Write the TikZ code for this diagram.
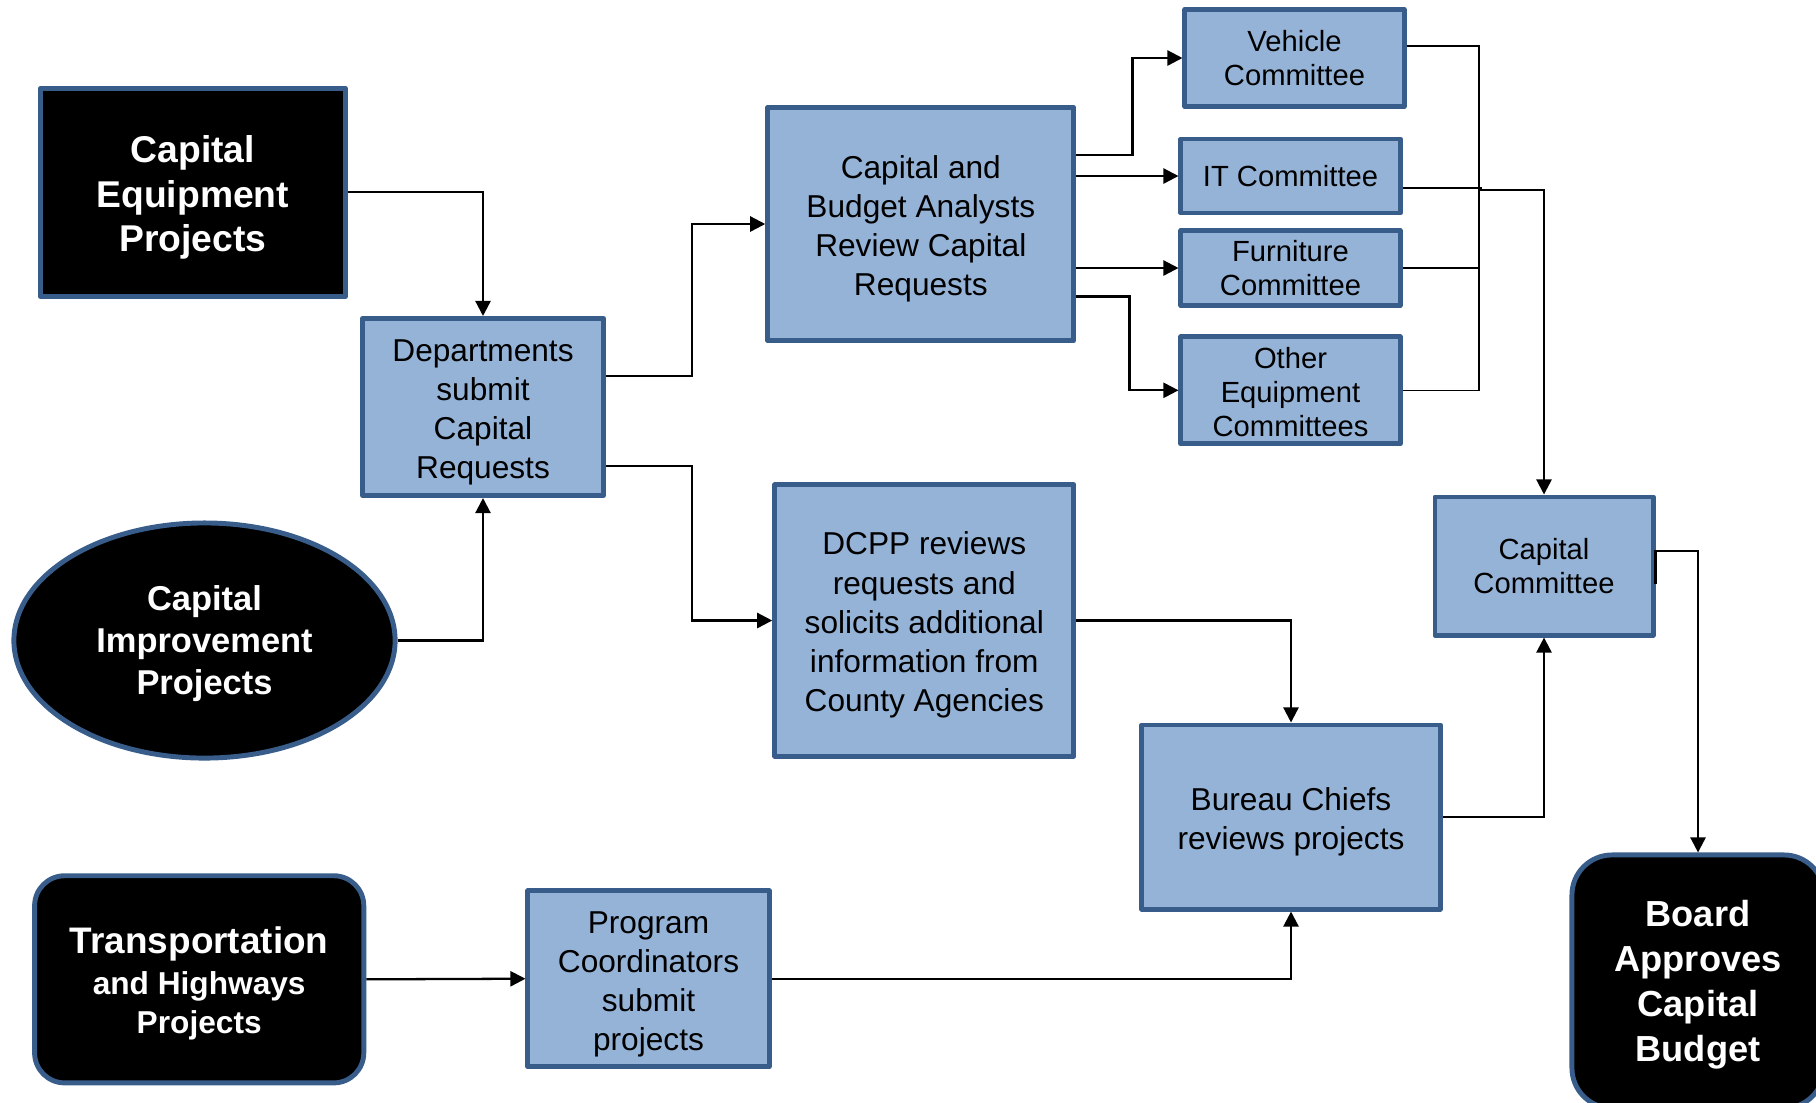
\documentclass[tikz,border=0pt]{standalone}
\usepackage{fontspec}
\setmainfont{Liberation Sans}
\usetikzlibrary{arrows.meta,calc,positioning}
\usetikzlibrary{shapes.geometric}
\definecolor{boxblue}{HTML}{95B3D7}
\definecolor{edgeblue}{HTML}{385D8A}
\newcommand{\toplift}[1][1em]{\rule{0pt}{#1}}

\begin{document}
\begin{tikzpicture}[x=0.01cm,y=-0.01cm,
every node/.style={draw=edgeblue,line width=1.4pt,line join=round,inner sep=0pt,align=center},
bluebox/.style={rectangle,fill=boxblue,font=\fontsize{9}{11.1}\selectfont},
cmte/.style={bluebox,font=\fontsize{8.3}{9.7}\selectfont},
blkbox/.style={fill=black,text=white,font=\bfseries\fontsize{10.6}{12.6}\selectfont},
arr/.style={-{Triangle[length=4.3pt,width=4.3pt]},line width=0.65pt},
thinline/.style={line width=0.45pt}]
\useasboundingbox (0,0) rectangle (1816,1102);
\clip (0,0) rectangle (1816,1102);
\node[blkbox,minimum width=3.05cm,minimum height=2.08cm] (CE) at (192.8,192.3) {\toplift Capital\\Equipment\\Projects};
\node[bluebox,minimum width=2.41cm,minimum height=1.77cm] (DS) at (483,407) {\toplift Departments\\submit\\Capital\\Requests};
\node[blkbox,ellipse,minimum width=3.81cm,minimum height=2.35cm,font=\bfseries\fontsize{9.8}{11.9}\selectfont] (CI) at (204.5,640.5) {\toplift[0.9em]Capital\\Improvement\\Projects};
\node[blkbox,rounded corners=0.3cm,minimum width=3.29cm,minimum height=2.07cm,font=\bfseries\fontsize{9}{11}\selectfont] (TH) at (199.2,979.3) {{\fontsize{10.5}{12}\selectfont\toplift[0.95em]Transportation}\\[0.8pt]and Highways\\Projects};
\node[bluebox,minimum width=2.41cm,minimum height=1.76cm] (PC) at (648.5,978.7) {\toplift[1.05em]Program\\Coordinators\\submit\\projects};
\node[bluebox,minimum width=3.06cm,minimum height=2.33cm] (CB) at (920.8,224) {\toplift Capital and\\Budget Analysts\\Review Capital\\Requests};
\node[bluebox,minimum width=2.99cm,minimum height=2.71cm] (DC) at (924.3,620.5) {\toplift DCPP reviews\\requests and\\solicits additional\\information from\\County Agencies};
\node[cmte,minimum width=2.19cm,minimum height=0.97cm] (VC) at (1294.5,58) {Vehicle\\Committee};
\node[cmte,minimum width=2.19cm,minimum height=0.74cm] (IT) at (1290.5,176) {IT Committee};
\node[cmte,minimum width=2.19cm,minimum height=0.75cm] (FC) at (1290.5,268) {Furniture\\Committee};
\node[cmte,minimum width=2.19cm,minimum height=1.07cm] (OC) at (1290.5,390.3) {\toplift[0.86em]Other\\Equipment\\Committees};
\node[cmte,minimum width=2.18cm,minimum height=1.38cm] (CC) at (1544,566) {Capital\\Committee};
\node[bluebox,minimum width=2.98cm,minimum height=1.84cm] (BC) at (1291,817) {\toplift Bureau Chiefs\\reviews projects};
\node[blkbox,rounded corners=0.4cm,minimum width=2.52cm,minimum height=2.53cm,font=\bfseries\fontsize{10.3}{12.8}\selectfont] (BA) at (1698,981.5) {\toplift[0.9em]Board\\Approves\\Capital\\Budget};
\coordinate (J) at (1479,190);
\draw[arr] (CE.east) -| (DS.north);
\draw[arr] (CI.east) -| (DS.south);
\draw[arr] ([yshift=0.31cm]DS.east) -- ++(86,0) |- (CB.west);
\draw[arr] ([yshift=-0.59cm]DS.east) -- ++(86,0) |- (DC.west);
\draw[arr] ([yshift=0.69cm]CB.east) -- ++(56,0) |- (VC.west);
\draw[arr] (CB.east |- IT.west) -- (IT.west);
\draw[arr] (CB.east |- FC.west) -- (FC.west);
\draw[arr] ([yshift=-0.725cm]CB.east) -- ++(53,0) |- (OC.west);
\draw[thinline] ([yshift=0.12cm]VC.east) -| (J);
\draw[thinline] ([yshift=-0.12cm]IT.east) -- ++(79,0);
\draw[thinline] (FC.east) -- (FC.east -| J);
\draw[thinline] (OC.east) -| (J);
\draw[arr] (J) -| (CC.north);
\draw[arr] ([yshift=-0.18cm]CC.east) -- ++(0,-33) -| (BA.north);
\draw[arr] (DC.east) -| (BC.north);
\draw[arr] (BC.east) -| (CC.south);
\draw[arr] (TH.east) -- (PC.west);
\draw[arr] (PC.east) -| (BC.south);
\end{tikzpicture}
\end{document}
